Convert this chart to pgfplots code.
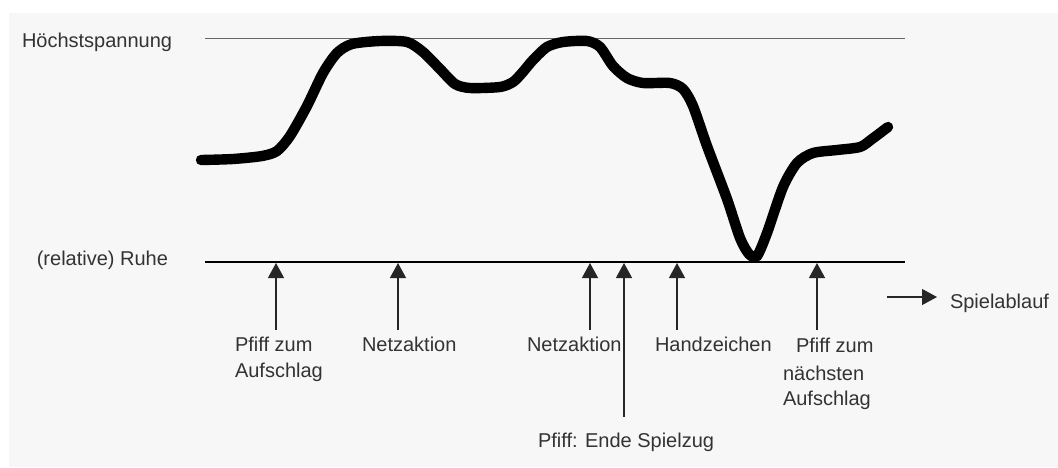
\documentclass[border=0pt]{standalone}
\usepackage{pgfplots}
\pgfplotsset{compat=1.18}
\usetikzlibrary{arrows.meta}
\usepackage{fontspec}
\setmainfont{Liberation Sans}
\begin{document}
\begin{tikzpicture}
\begin{axis}[scale only axis, width=529pt, height=233.5pt,
  xmin=0, xmax=1058, ymin=0, ymax=467, y dir=reverse,
  axis lines=none, clip=false]
\tikzset{lbl/.style={font=\fontsize{10}{12}\selectfont, text=black!80, inner sep=0pt, outer sep=0pt}}
\path (axis cs:0,0) rectangle (axis cs:1058,467);
\fill[black!3] (axis cs:9,13) rectangle (axis cs:1058,467);
% reference lines
\addplot[black!60, line width=0.5pt] coordinates {(205,38) (905,38)};
\addplot[black, line width=0.6pt] coordinates {(205,262) (905,262)};
% tension curve
\addplot[black, line width=5.2pt, smooth, tension=0.45, line cap=round] coordinates {
(201,160) (233,159) (262,156) (277,151) (290,136) (307,106) (323,73) (337,53)
(352,44) (380,41) (407,42) (423,52) (440,69) (455,84) (470,88) (500,87)
(513,82) (522,73) (533,60) (547,47) (563,42) (587,41) (600,47) (613,66)
(627,78) (643,83) (670,83) (683,89) (693,106) (707,146) (727,199) (740,238)
(749,254) (757,256) (767,233) (783,187) (797,163) (813,153) (837,150) (860,147)
(872,139) (888,127)};
% arrows
\foreach \x/\y in {276/330, 398/330, 590/330, 624/417, 677/330, 817/330}{
  \edef\temp{\noexpand\draw[black!85, line width=0.6pt, -{Triangle[width=8pt,length=7.5pt]}] (axis cs:\x,\y) -- (axis cs:\x,263);}
  \temp
}
\draw[black!85, line width=0.6pt, -{Triangle[width=8pt,length=7.5pt]}] (axis cs:887,297) -- (axis cs:937,297);
% labels
\node[lbl, anchor=west] at (axis cs:22,42) {Höchstspannung};
\node[lbl, anchor=east] at (axis cs:168,260) {(relative) Ruhe};
\node[lbl, anchor=west] at (axis cs:235,344) {Pfiff zum};
\node[lbl, anchor=west] at (axis cs:235,372) {Aufschlag};
\node[lbl, anchor=west] at (axis cs:362,344) {Netzaktion};
\node[lbl, anchor=west] at (axis cs:527,344) {Netzaktion};
\node[lbl, anchor=west] at (axis cs:655,344) {Handzeichen};
\node[lbl, anchor=west] at (axis cs:796,345) {Pfiff zum};
\node[lbl, anchor=west] at (axis cs:783,373) {nächsten};
\node[lbl, anchor=west] at (axis cs:783,400) {Aufschlag};
\node[lbl, anchor=west] at (axis cs:538,442) {Pfiff: Ende Spielzug};
\node[lbl, anchor=west] at (axis cs:950,303) {Spielablauf};
\end{axis}
\end{tikzpicture}
\end{document}
